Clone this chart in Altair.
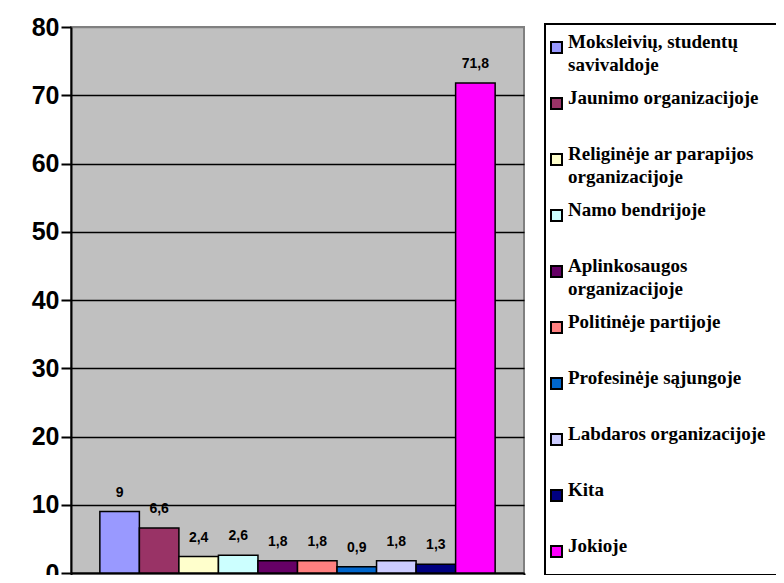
import altair as alt
import pandas as pd

categories = [
    "Moksleivių, studentų savivaldoje",
    "Jaunimo organizacijoje",
    "Religinėje ar parapijos organizacijoje",
    "Namo bendrijoje",
    "Aplinkosaugos organizacijoje",
    "Politinėje partijoje",
    "Profesinėje sąjungoje",
    "Labdaros organizacijoje",
    "Kita",
    "Jokioje",
]
values = [9, 6.6, 2.4, 2.6, 1.8, 1.8, 0.9, 1.8, 1.3, 71.8]
colors = ["#9999FF", "#993366", "#FFFFCC", "#CCFFFF", "#660066",
          "#FF8080", "#0066CC", "#CCCCFF", "#000080", "#FF00FF"]
y_ticks = [0, 10, 20, 30, 40, 50, 60, 70, 80]

df = pd.DataFrame({"grp": ["Visi"] * len(categories), "cat": categories, "val": values})

label_expr = ("split(replace(replace(replace(datum.label, 'studentų ', 'studentų|'), "
              "'parapijos ', 'parapijos|'), 'Aplinkosaugos ', 'Aplinkosaugos|'), '|')")

serif = "'Liberation Serif', 'Times New Roman', 'DejaVu Serif', serif"

base = alt.Chart(df).encode(
    x=alt.X("grp:N", title=None,
            scale=alt.Scale(paddingInner=0, paddingOuter=0),
            axis=alt.Axis(labels=False, ticks=True, tickBand="extent", tickSize=10,
                          tickColor="black", tickWidth=2, domainColor="black",
                          domainWidth=2, grid=False)),
    xOffset=alt.XOffset("cat:N", sort=categories,
                        scale=alt.Scale(paddingInner=0, paddingOuter=0.73)),
)

bars = base.mark_bar(stroke="black", strokeWidth=1.5).encode(
    y=alt.Y("val:Q", title=None,
            scale=alt.Scale(domain=[0, 80], nice=False),
            axis=alt.Axis(values=y_ticks, domainColor="black", domainWidth=2,
                          tickColor="black", tickWidth=2, tickSize=10,
                          labelFont="Liberation Sans", labelFontWeight="bold",
                          labelFontSize=25, labelColor="black", labelPadding=2,
                          grid=True, gridWidth=1.5,
                          gridColor={"condition": {"test": "datum.value >= 80", "value": "#808080"},
                                     "value": "black"})),
    color=alt.Color("cat:N", sort=categories,
                    scale=alt.Scale(domain=categories, range=colors),
                    legend=alt.Legend(title=None, orient="none", legendX=474, legendY=-3,
                                      symbolType="square", symbolSize=121,
                                      symbolStrokeColor="black", symbolStrokeWidth=2,
                                      labelFont=serif, labelFontWeight="bold",
                                      labelFontSize=19, labelColor="black", labelLimit=400,
                                      labelExpr=label_expr, labelBaseline="alphabetic",
                                      gridAlign="all", rowPadding=13,
                                      strokeColor="black", fillColor="white", padding=14,
                                      symbolOffset={"expr": "-12"},
                                      labelOffset=2)),
)

text = base.transform_calculate(
    lbl="replace(toString(datum.val), '.', ',')"
).mark_text(font="Liberation Sans", fontWeight="bold", fontSize=14,
            baseline="middle", dy=-19, color="black").encode(
    y=alt.Y("val:Q"),
    text="lbl:N",
)

chart = alt.layer(bars, text).properties(
    width=453, height=546,
    autosize=alt.AutoSizeParams(type="none"),
    padding={"left": 63, "top": 19, "right": 252, "bottom": 2},
).configure(
    style={"guide-label": {"lineHeight": 23}},
).configure_view(
    fill="#C0C0C0", stroke="#808080", strokeWidth=2
).configure_legend(
    strokeWidth=2
)

chart.save("out.html", embed_options={"renderer": "svg", "actions": False})
